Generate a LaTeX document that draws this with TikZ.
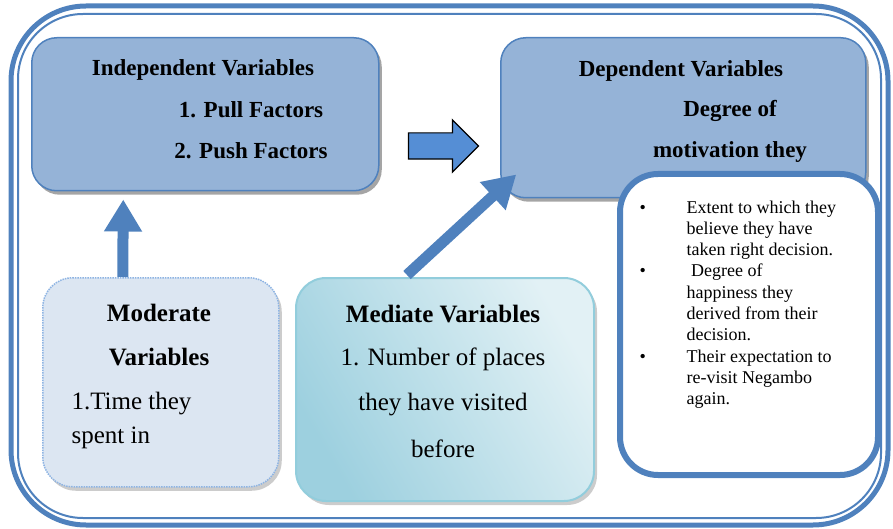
\documentclass[tikz,border=0pt]{standalone}
\usepackage{fontspec}
\setmainfont{Liberation Serif}
\usepackage{tikz}
\usetikzlibrary{arrows.meta,shadows,shapes.arrows,calc}

\definecolor{boxblue}{HTML}{95B3D7}
\definecolor{lineblue}{HTML}{4F81BD}
\definecolor{arrowblue}{HTML}{558ED5}
\definecolor{paleblue}{HTML}{DCE6F2}
\definecolor{dotblue}{HTML}{8EB4E3}
\definecolor{tealedge}{HTML}{92CDDC}
\definecolor{tealdark}{HTML}{9DD0DF}
\definecolor{teallight}{HTML}{E2F1F5}

\begin{document}
\begin{tikzpicture}[x=1pt,y=-1pt,
    varbox/.style={draw=lineblue, line width=1.5pt, fill=boxblue, rounded corners=25pt,
        anchor=north west, drop shadow={shadow xshift=3pt, shadow yshift=-4pt, fill=black!70}},
    head/.style={font=\fontsize{23}{27}\selectfont\bfseries},
    bighead/.style={font=\fontsize{25}{29}\selectfont\bfseries},
    body/.style={font=\fontsize{25}{29}\selectfont},
    thick arrow/.style={line width=11pt, draw=lineblue, -{Triangle[length=32pt,width=36pt]}}]
    \useasboundingbox (0,0) rectangle (893,529);
    % frame
    \draw[lineblue, line width=5pt, rounded corners=75pt] (11,6) rectangle (888,525);
    \draw[lineblue, line width=2pt, rounded corners=65pt] (18,14) rectangle (881,518);
    % boxes
    \node[varbox, minimum width=347pt, minimum height=153pt] (indep) at (31,37) {};
    \node[varbox, minimum width=365pt, minimum height=160pt] (dep) at (500,37) {};
    \node[anchor=north west, draw=dotblue, densely dotted, line width=1.5pt, fill=paleblue,
        rounded corners=30pt, minimum width=236pt, minimum height=209pt,
        drop shadow={shadow xshift=3pt, shadow yshift=-4pt, fill=black!40}] (mod) at (42,277) {};
    \node[anchor=north west, draw=tealedge, line width=2pt, rounded corners=30pt,
        shading=axis, left color=tealdark, right color=teallight, shading angle=120,
        minimum width=298pt, minimum height=223pt,
        drop shadow={shadow xshift=3pt, shadow yshift=-4pt, fill=black!40}] (med) at (295,277) {};
    \node[anchor=north west, draw=lineblue, line width=6pt, fill=white, rounded corners=38pt,
        minimum width=258pt, minimum height=301pt] (result) at (617,171) {};
    % texts
    \node[head] (indeptitle) at (203,70) {Independent Variables};
    \node[head] (pull) at (251,110) {1. Pull Factors};
    \node[head] (push) at (251,151) {2. Push Factors};
    \node[head] (deptitle) at (681,71) {Dependent Variables};
    \node[head] (degree) at (730,111) {Degree of};
    \node[head] (motiv) at (730,152) {motivation they};
    \node[bighead] (modtitle) at (159,313) {Moderate};
    \node[bighead] (modtitle2) at (159,357) {Variables};
    \node[body, anchor=west] (time) at (68,404) {1.Time they};
    \node[body, anchor=west] (spent) at (68,438) {spent in};
    \node[bighead] (medtitle) at (443,314) {Mediate Variables};
    \node[body] (number) at (443,359) {1. Number of places};
    \node[body] (visited) at (443,405) {they have visited};
    \node[body] (before) at (443,449) {before};
    \node[anchor=north west, align=left, font=\fontsize{18}{21.3}\selectfont] (bullets) at (636,197)
        {\makebox[47pt][l]{\textbullet}Extent to which they\\
         \hspace*{47pt}believe they have\\
         \hspace*{47pt}taken right decision.\\
         \makebox[47pt][l]{\textbullet} Degree of\\
         \hspace*{47pt}happiness they\\
         \hspace*{47pt}derived from their\\
         \hspace*{47pt}decision.\\
         \makebox[47pt][l]{\textbullet}Their expectation to\\
         \hspace*{47pt}re-visit Negambo\\
         \hspace*{47pt}again.};
    % arrows
    \node[single arrow, draw=black, line width=1.2pt, fill=arrowblue, minimum height=70pt,
        single arrow head extend=13pt, single arrow head indent=0pt,
        inner xsep=0pt, inner ysep=12.5pt] (toright) at (437,146) {};
    \draw[thick arrow] ([xshift=-38pt]mod.north) -- ([xshift=-82pt, yshift=-8pt]indep.south);
    \draw[thick arrow] ([xshift=-38pt, yshift=2pt]med.north) -- ([xshift=-167pt, yshift=24pt]dep.south);
\end{tikzpicture}
\end{document}
